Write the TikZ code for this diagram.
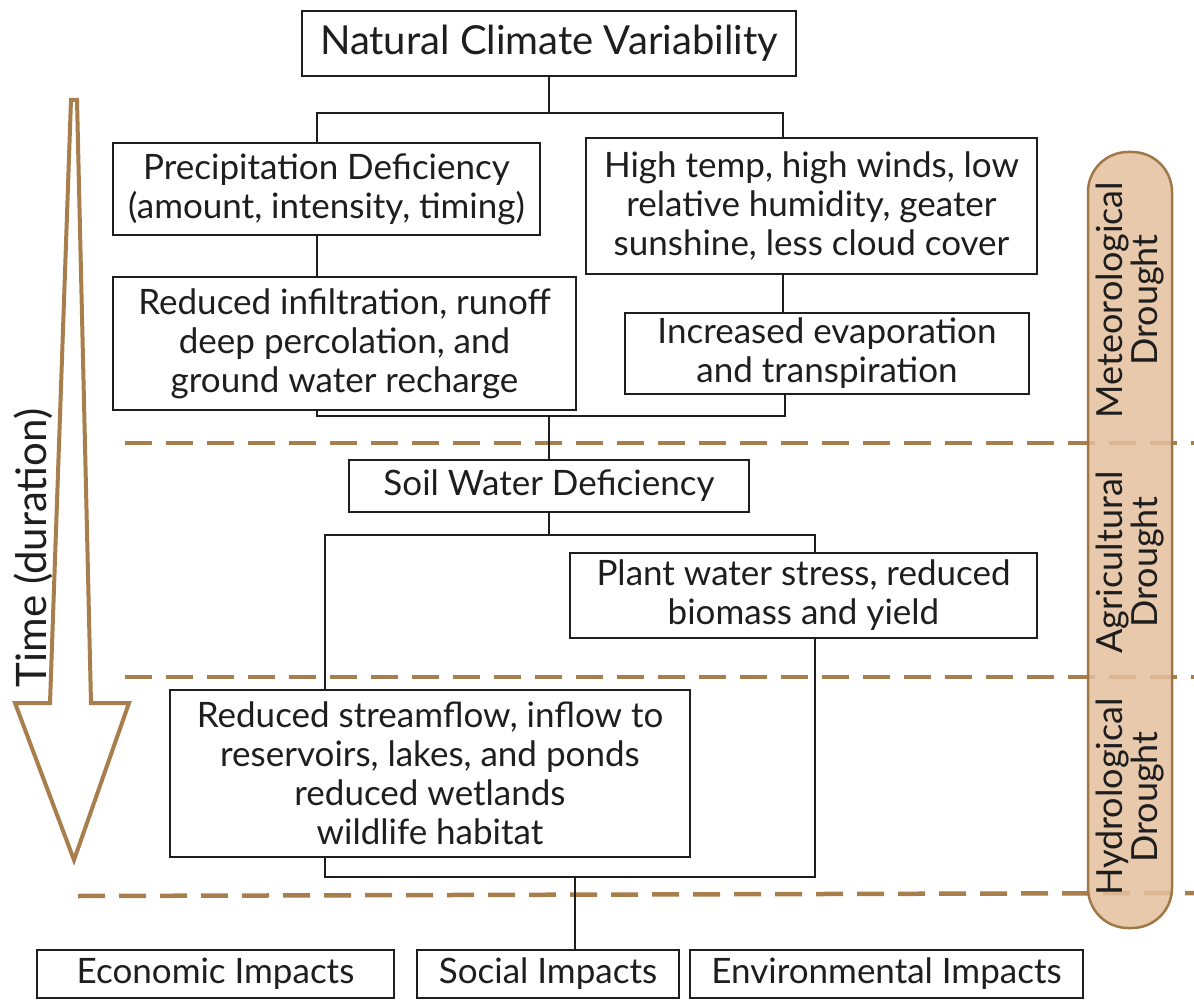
\documentclass[tikz,border=0pt]{standalone}
\usepackage{fontspec}
\setmainfont{Lato}
\definecolor{brownline}{RGB}{168,126,76}
\definecolor{pillfill}{RGB}{228,192,157}
\definecolor{pillborder}{RGB}{160,120,72}
\definecolor{ink}{RGB}{30,30,30}
\begin{document}
\begin{tikzpicture}[x=1pt,y=-1pt,
  box/.style={draw=ink, line width=1.8pt, fill=white, inner sep=0pt, align=center, text=ink,
              font=\fontsize{35}{39}\selectfont},
  link/.style={draw=ink, line width=1.8pt},
  sep/.style={draw=brownline, line width=4.5pt, dash pattern=on 27pt off 14pt},
  sidelabel/.style={rotate=90, align=center, text=ink, font=\fontsize{36}{35}\selectfont},
]
\useasboundingbox (0,0) rectangle (1194,1000);

% separators
\coordinate (d1a) at (125,443); \coordinate (d1b) at (1194,443);
\coordinate (d2a) at (125,677); \coordinate (d2b) at (1194,677);
\coordinate (d3a) at (78,896);  \coordinate (d3b) at (1194,893);
\draw[sep] (d1a) -- (d1b);
\draw[sep] (d2a) -- (d2b);
\draw[sep] (d3a) -- (d3b);

% time arrow
\draw[line width=4pt, draw=brownline, fill=white, line join=miter]
  (71,100) -- (50,703) -- (15,703) -- (74,860) -- (129,703) -- (91,703) -- (77,100) -- cycle;
\node[rotate=90, text=ink, font=\fontsize{42}{44}\selectfont] (time) at (33,548) {Time (duration)};

% boxes
\node[box, font=\fontsize{40}{44}\selectfont, minimum width=494pt, minimum height=65pt] (ncv) at (549,43.5) {Natural Climate Variability};
\node[box, minimum width=427pt, minimum height=92pt] (prec) at (326.5,189) {Precipitation Deficiency\\(amount, intensity, timing)};
\node[box, minimum width=451pt, minimum height=136pt] (high) at (811.5,206) {High temp, high winds, low\\relative humidity, geater\\sunshine, less cloud cover};
\node[box, minimum width=463pt, minimum height=133pt] (red) at (344.5,343.5) {Reduced infiltration, runoff\\deep percolation, and\\ground water recharge};
\node[box, minimum width=404pt, minimum height=81pt] (inc) at (827,353.5) {Increased evaporation\\and transpiration};
\node[box, minimum width=400pt, minimum height=52pt] (soil) at (549,486) {Soil Water Deficiency};
\node[box, minimum width=467pt, minimum height=85pt] (plant) at (803.5,595.5) {Plant water stress, reduced\\biomass and yield};
\node[box, minimum width=520pt, minimum height=167pt] (stream) at (430,773.5) {Reduced streamflow, inflow to\\reservoirs, lakes, and ponds\\reduced wetlands\\wildlife habitat};
\node[box, minimum width=357pt, minimum height=48pt] (econ) at (215.5,974) {Economic Impacts};
\node[box, minimum width=262pt, minimum height=48pt] (social) at (548,974) {Social Impacts};
\node[box, minimum width=393pt, minimum height=48pt] (env) at (886.5,974) {Environmental Impacts};

% connectors
\coordinate (j1) at (549,113); \coordinate (j1l) at (317,113); \coordinate (j1r) at (783,113);
\draw[link] (ncv.south) -- (j1);
\draw[link] (prec.north -| j1l) -- (j1l) -- (j1r) -- (high.north -| j1r);
\draw[link] (prec.south -| j1l) -- (red.north -| j1l);
\draw[link] (high.south -| j1r) -- (inc.north -| j1r);
\coordinate (j2) at (549,416); \coordinate (j2l) at (317,416); \coordinate (j2r) at (785,416);
\draw[link] (red.south -| j2l) -- (j2l) -- (j2r) -- (inc.south -| j2r);
\draw[link] (j2) -- (soil.north);
\coordinate (j3) at (549,535); \coordinate (j3l) at (325,535); \coordinate (j3r) at (815,535);
\draw[link] (soil.south) -- (j3);
\draw[link] (stream.north -| j3l) -- (j3l) -- (j3r) -- (plant.north -| j3r);
\coordinate (j4) at (575,877); \coordinate (j4l) at (325,877); \coordinate (j4r) at (815,877);
\draw[link] (stream.south -| j4l) -- (j4l) -- (j4r) -- (plant.south -| j4r);
\draw[link] (j4) -- (social.north -| j4);

% drought pill
\node[draw=pillborder, line width=2.5pt, fill=pillfill, fill opacity=0.85, rounded corners=40pt,
      minimum width=84pt, minimum height=776pt, inner sep=0pt] (pill) at (1130,540) {};
\node[sidelabel] (met) at (1130,300) {Meteorological\\Drought};
\node[sidelabel] (agr) at (1130,562) {Agricultural\\Drought};
\node[sidelabel] (hyd) at (1130,797) {Hydrological\\Drought};
\end{tikzpicture}
\end{document}
